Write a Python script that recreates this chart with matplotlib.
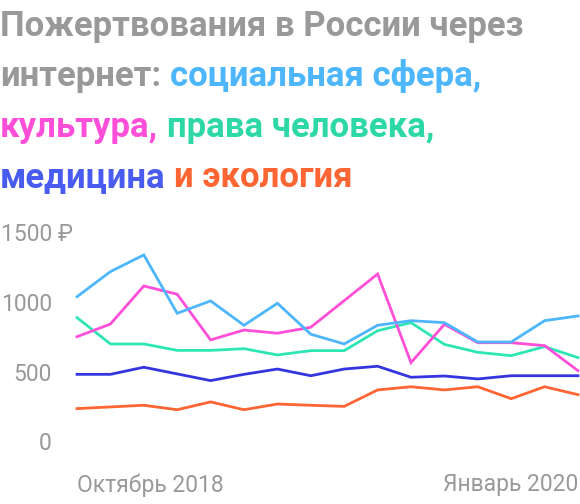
import matplotlib
matplotlib.use("Agg")
import matplotlib.pyplot as plt

plt.rcParams['font.family'] = ['Roboto', 'DejaVu Sans']

# months Oct 2018 .. Jan 2020
months = list(range(16))
social = [1057, 1237, 1357, 938, 1027, 852, 1010, 788, 718, 852, 885, 871, 732, 732, 885, 919]
culture = [770, 861, 1134, 1075, 747, 818, 795, 838, 1029, 1220, 584, 859, 727, 727, 706, 526]
rights = [907, 718, 718, 672, 672, 684, 639, 670, 670, 813, 871, 715, 658, 634, 699, 620]
medicine = [500, 500, 551, 503, 455, 500, 538, 490, 538, 558, 479, 488, 467, 490, 490, 490]
ecology = [254, 266, 278, 246, 302, 246, 287, 278, 270, 388, 411, 388, 411, 325, 411, 354]
yticks = [0, 500, 1000, 1500]
xlabels = ["Октябрь 2018", "Январь 2020"]

GRAY = "#999999"
C_SOCIAL = "#4db6fc"
C_CULTURE = "#ff4fd8"
C_RIGHTS = "#2ee6b4"
C_MED = "#3535e0"
C_ECO = "#ff6433"

W, H = 580, 504
fig = plt.figure(figsize=(W / 100, H / 100), dpi=100)

# plot area in pixels
left, right, top, bottom = 77, 578, 235, 444
ax = fig.add_axes([left / W, 1 - bottom / H, (right - left) / W, (bottom - top) / H])
ax.set_xlim(0, 15)
ax.set_ylim(0, 1500)
ax.axis("off")

for vals, col in [(ecology, C_ECO), (medicine, C_MED), (rights, C_RIGHTS),
                  (culture, C_CULTURE), (social, C_SOCIAL)]:
    ax.plot(months, vals, color=col, lw=2, clip_on=False, solid_joinstyle="miter")

# y labels
lsize = 16.5
px = 15 / (right - left)  # data units per pixel on x
for v in yticks:
    if v == yticks[-1]:
        ax.text(-76 * px, v, f"{v} ₽", ha="left", va="center", fontsize=lsize, color=GRAY)
    else:
        ax.text(-25 * px, v, str(v), ha="right", va="center", fontsize=lsize, color=GRAY)

# x labels
fig.text(left / W, 1 - 485 / H, xlabels[0], ha="left", va="center", fontsize=lsize, color=GRAY)
fig.text(right / W, 1 - 485 / H, xlabels[1], ha="right", va="center", fontsize=lsize, color=GRAY)

# multicolor title
title_lines = [
    [("Пожертвования в России через", GRAY)],
    [("интернет:", GRAY), (" ", GRAY), ("социальная сфера,", C_SOCIAL)],
    [("культура,", C_CULTURE), (" ", GRAY), ("права человека,", "#2ed8a6")],
    [("медицина", "#4a5cf0"), (" ", GRAY), ("и экология", C_ECO)],
]
baselines = [36, 86, 137, 187]
renderer = fig.canvas.get_renderer()
tsize = 25


def text_width(s):
    t = fig.text(0, 0, s, fontsize=tsize, fontweight="bold")
    w = t.get_window_extent(renderer).width
    t.remove()
    return w


space_w = text_width("a a") - text_width("aa")
for line, base in zip(title_lines, baselines):
    x = 0
    for s, col in line:
        if s == " ":
            x += space_w
            continue
        t = fig.text(x / W, 1 - base / H, s, fontsize=tsize, fontweight="bold",
                     color=col, ha="left", va="baseline")
        x += t.get_window_extent(renderer).width

fig.savefig("out.png", dpi=100)
